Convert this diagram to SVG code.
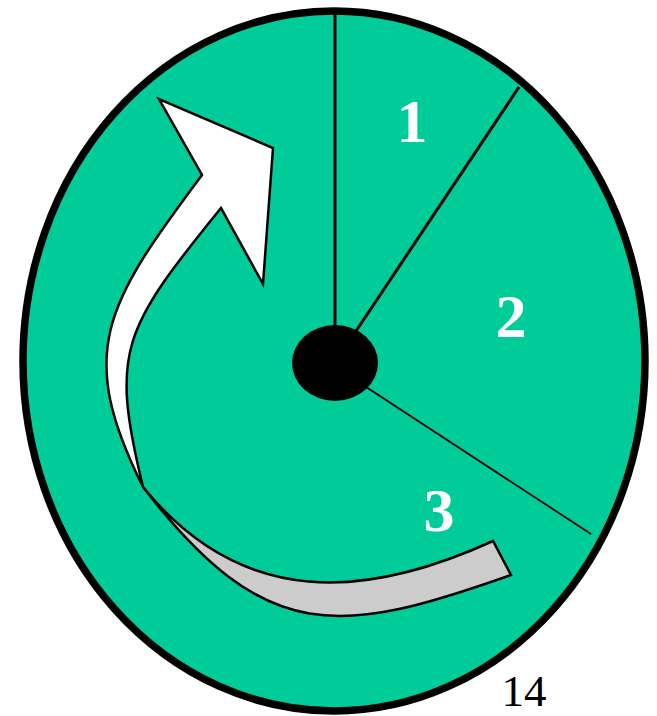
<svg xmlns="http://www.w3.org/2000/svg" width="657" height="716" viewBox="0 0 657 716">
<style>
.num{font-family:"Liberation Serif","Times New Roman",serif;font-weight:bold;font-size:62px;fill:#FFFFFF;text-anchor:middle}
.page{font-family:"Liberation Serif","Times New Roman",serif;font-size:45px;fill:#000000;text-anchor:middle}
.rib{stroke:#000;stroke-width:2.5;stroke-linejoin:miter}
</style>
<rect width="657" height="716" fill="#FFFFFF"/>
<g id="dial">
<ellipse cx="334" cy="361" rx="311" ry="350" fill="#00CC99" stroke="#000" stroke-width="7.5"/>
</g>
<g id="dividers" stroke="#000" fill="none">
<line x1="335" y1="12" x2="335" y2="330" stroke-width="3"/>
<line x1="519" y1="87" x2="350" y2="340" stroke-width="3"/>
<line x1="360" y1="383" x2="591" y2="534" stroke-width="1.8"/>
</g>
<g id="hub">
<ellipse cx="335" cy="363" rx="43" ry="38" fill="#000"/>
</g>
<g id="back-band">
<path class="rib" fill="#CCCCCC" d="M143,487 C243,610 368,598 493,541 L511,575 C341,635 266,647 143,487 Z"/>
</g>
<g id="arrow">
<path class="rib" fill="#FFFFFF" d="M143,487 C76,352 104,306 202,175 L159,99 L273,148 L263,284 L221,208 C122,330 110,351 143,487 Z"/>
</g>
<g id="labels">
<text class="num" x="412" y="142">1</text>
<text class="num" x="511" y="337">2</text>
<text class="num" x="439" y="531">3</text>
<text class="page" x="524" y="706">14</text>
</g>
</svg>
